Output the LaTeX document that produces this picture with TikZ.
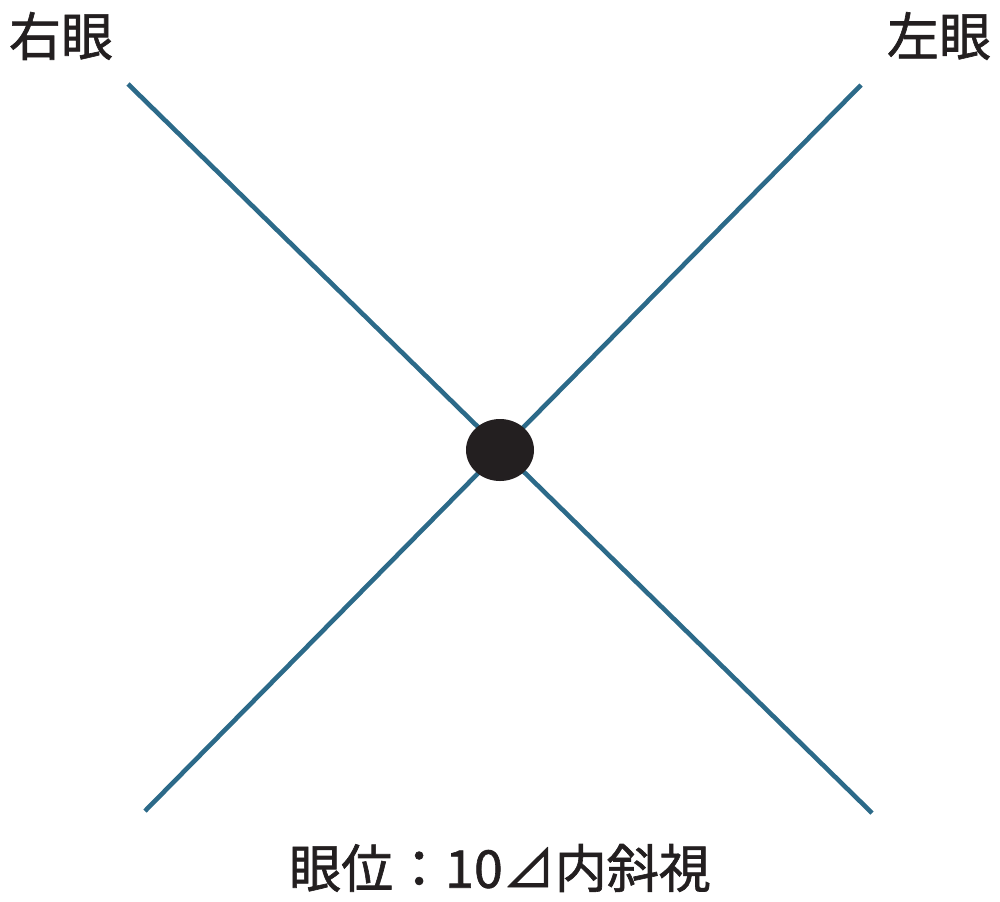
\documentclass[tikz,border=0pt]{standalone}
\usepackage{fontspec}
\newfontfamily\cjk[FakeBold=1.2]{Noto Sans CJK JP}
\usetikzlibrary{shapes.geometric}
\definecolor{linec}{HTML}{2C6A89}
\definecolor{inkc}{HTML}{231F20}
\begin{document}
\begin{tikzpicture}[x=0.5pt,y=-0.5pt,
  axisline/.style={draw=linec,line width=2.3pt},
  lbl/.style={inner sep=0pt,text=inkc,font=\cjk\fontsize{26pt}{30pt}\selectfont},
  centerdot/.style={ellipse,fill=inkc,minimum width=34pt,minimum height=31pt,inner sep=0pt}]
\useasboundingbox (0,0) rectangle (1000,901);
\node[lbl] (re) at (61,36) {右眼};
\node[lbl] (le) at (939,36) {左眼};
\node[lbl] (pos) at (500,868) {眼位：10⊿内斜視};
\coordinate (tl) at (128,84);
\coordinate (br) at (872,813);
\coordinate (tr) at (861,85);
\coordinate (bl) at (145,811);
\draw[axisline] (tl) -- (br);
\draw[axisline] (tr) -- (bl);
\node[centerdot] (dot) at (500,450) {};
\end{tikzpicture}
\end{document}
